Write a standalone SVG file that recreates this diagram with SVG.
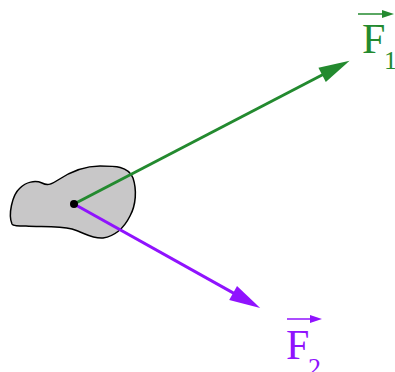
<svg xmlns="http://www.w3.org/2000/svg" width="395" height="372" viewBox="0 0 395 372">
<style>
.lbl{font-family:"Liberation Serif","Times New Roman",serif;}
.g{fill:#238a2f;}
.p{fill:#9013fe;}
.gs{stroke:#238a2f;}
.ps{stroke:#9013fe;}
</style>
<defs>
<marker id="ahG" markerUnits="userSpaceOnUse" markerWidth="30" markerHeight="16" refX="0" refY="8" orient="auto" overflow="visible">
<path d="M-1,0 L30,8 L-1,16 Z" fill="#238a2f"/>
</marker>
<marker id="ahP" markerUnits="userSpaceOnUse" markerWidth="30" markerHeight="16" refX="0" refY="8" orient="auto" overflow="visible">
<path d="M-1,0 L30,8 L-1,16 Z" fill="#9013fe"/>
</marker>
</defs>
<g id="body">
<path d="M 12,224 C 8,215 12,195 20,188 C 26,182 35,180 42,183 C 48,186 52,184 58,180 C 70,172 85,166 100,166 C 115,166 128,166 133,178 C 137,190 136,205 130,216 C 124,228 115,236 103,238 C 92,239 85,233 72,229 C 58,226 40,227 26,226 C 18,226 13,226 12,224 Z" fill="#c8c7c8" stroke="#000" stroke-width="1.5"/>
</g>
<g id="connectors" fill="none" stroke-width="3">
<line class="gs" x1="74" y1="204" x2="323" y2="74.5" marker-end="url(#ahG)"/>
<line class="ps" x1="74" y1="204" x2="234" y2="293.4" marker-end="url(#ahP)"/>
</g>
<g id="point">
<circle cx="74" cy="204" r="4" fill="#000"/>
</g>
<g id="F1">
<line x1="358" y1="14" x2="384" y2="14" class="gs" stroke-width="1.5"/>
<path d="M382,10 L394,14 L382,18 Z" class="g"/>
<text class="lbl g" x="362" y="53" font-size="42">F</text>
<text class="lbl g" x="384" y="69" font-size="26">1</text>
</g>
<g id="F2">
<line x1="287" y1="319" x2="312" y2="319" class="ps" stroke-width="1.5"/>
<path d="M310,315 L322,319 L310,323 Z" class="p"/>
<text class="lbl p" x="286" y="359" font-size="42">F</text>
<text class="lbl p" x="308" y="376" font-size="26">2</text>
</g>
</svg>
